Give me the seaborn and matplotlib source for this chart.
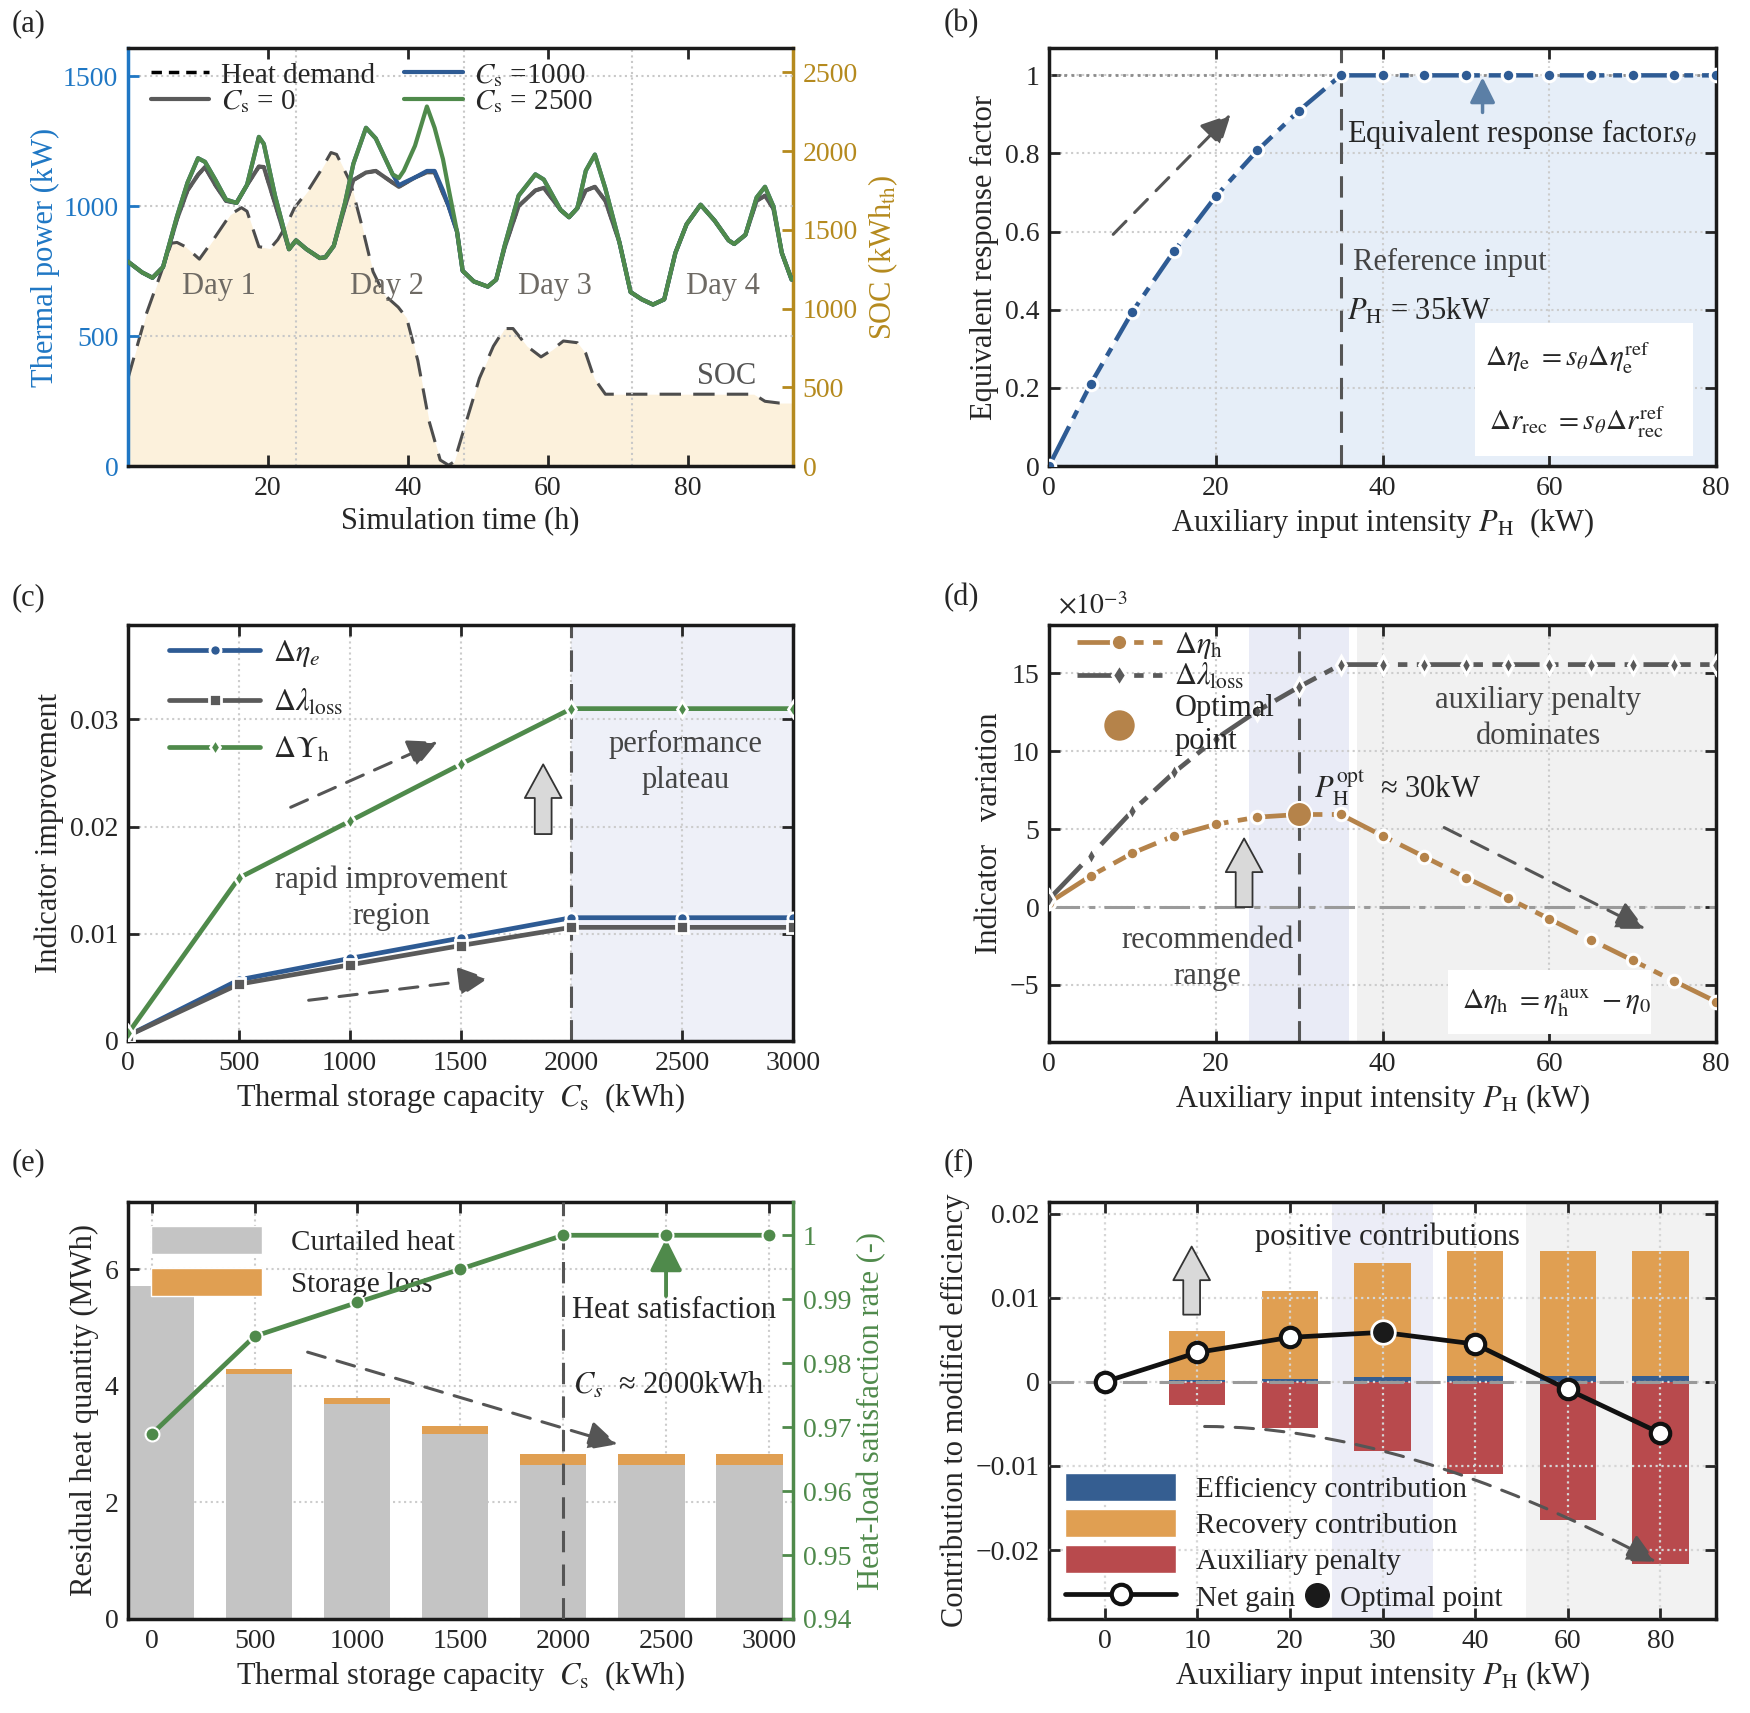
import numpy as np
import pandas as pd
import matplotlib
matplotlib.use("Agg")
import matplotlib.pyplot as plt
import seaborn as sns
from matplotlib.patches import Rectangle, Patch, FancyArrowPatch
from matplotlib.lines import Line2D
from matplotlib.ticker import FuncFormatter

# ---------------- data ----------------
# (a) 4-day operation
hours_a = [0, 2, 3.5, 5, 7, 8.5, 10, 11, 12.5, 14, 15.5, 17, 18.7, 19.4, 21,
           23, 24, 25.5, 27.4, 28.2, 29.4, 31, 32.2, 34, 35.4, 37.8, 38.7, 39.4,
           41, 42.7, 43.8, 45, 45.8, 47, 47.8, 49.4, 51.4, 52.6, 53.8, 55.8,
           58.2, 59.4, 61.8, 63, 64.2, 65.4, 66.7, 68.2, 70.2, 71.8, 73.4, 75,
           76.6, 78.2, 79.8, 81.8, 83.8, 85.8, 86.6, 88.2, 89.8, 91, 92.2, 93.4, 94.8]
power_cs2500 = [786, 745, 724, 765, 960, 1090, 1184, 1170, 1100, 1025, 1012, 1081,
                1266, 1239, 1040, 834, 868, 834, 800, 803, 847, 1012, 1163, 1301,
                1260, 1122, 1108, 1136, 1232, 1383, 1301, 1180, 1067, 902, 751,
                710, 690, 717, 847, 1040, 1122, 1102, 985, 957, 992, 1136, 1198,
                1067, 861, 669, 641, 621, 641, 820, 930, 1005, 944, 868, 854, 889,
                1033, 1074, 999, 820, 717]
power_cs0 = [786, 745, 724, 765, 950, 1060, 1120, 1150, 1080, 1020, 1012, 1081,
             1152, 1150, 1010, 834, 868, 834, 800, 803, 847, 1000, 1100, 1129,
             1135, 1090, 1074, 1085, 1110, 1130, 1130, 1050, 1000, 902, 751,
             710, 690, 717, 840, 1000, 1060, 1070, 985, 957, 992, 1060, 1074,
             1020, 861, 669, 641, 621, 641, 820, 930, 1005, 944, 868, 854, 889,
             1020, 1040, 990, 820, 717]
power_cs1000 = [786, 745, 724, 765, 960, 1090, 1184, 1170, 1100, 1025, 1012, 1081,
                1266, 1239, 1040, 834, 868, 834, 800, 803, 847, 1012, 1163, 1301,
                1260, 1122, 1080, 1090, 1110, 1135, 1135, 1060, 1000, 902, 751,
                710, 690, 717, 847, 1040, 1122, 1102, 985, 957, 992, 1136, 1198,
                1067, 861, 669, 641, 621, 641, 820, 930, 1005, 944, 868, 854, 889,
                1033, 1074, 999, 820, 717]
heat_demand = power_cs0
soc_hours = [0, 2.6, 4.6, 6.2, 7, 8.2, 10.2, 12.2, 14.6, 16.2, 17, 18.7, 20.3, 21.4,
             22.6, 23.8, 25.8, 27.4, 29, 29.8, 31.8, 33.4, 35, 36.6, 38.6, 39.8,
             41.4, 43, 44.6, 45.8, 46.6, 48.2, 50.2, 52.2, 53.8, 55, 57, 59, 60.6,
             62.2, 64.2, 65.4, 66.6, 68.2, 89.4, 91, 93, 94.8]
soc_vals = [557, 964, 1212, 1415, 1420, 1393, 1314, 1438, 1596, 1641, 1618, 1393,
            1381, 1438, 1528, 1641, 1754, 1867, 1991, 1979, 1799, 1528, 1235, 1088,
            1009, 941, 670, 287, 38, 5, 27, 264, 557, 761, 873, 873, 761, 693, 738,
            794, 783, 715, 557, 456, 456, 411, 400, 400]
day_labels = ["Day 1", "Day 2", "Day 3", "Day 4"]

# (b) equivalent response factor
p_b = [0, 5, 10, 15, 20, 25, 30, 35, 40, 45, 50, 55, 60, 65, 70, 75, 80]
s_b = [0, 0.21, 0.395, 0.55, 0.69, 0.808, 0.91, 1, 1, 1, 1, 1, 1, 1, 1, 1, 1]

# (c) indicator improvement vs storage capacity
cap_c = [0, 500, 1000, 1500, 2000, 2500, 3000]
d_eta_e = [0.0005, 0.0057, 0.0077, 0.0096, 0.0115, 0.0115, 0.0115]
d_lam_loss = [0.0005, 0.0053, 0.0071, 0.0089, 0.0106, 0.0106, 0.0106]
d_ups_h = [0.0007, 0.0152, 0.0205, 0.0258, 0.031, 0.031, 0.031]

# (d) indicator variation (x1e-3)
p_d = [0, 5, 10, 15, 20, 25, 30, 35, 40, 45, 50, 55, 60, 65, 70, 75, 80]
d_eta_h = [0.28, 2.0, 3.46, 4.57, 5.31, 5.77, 5.94, 5.94, 4.57, 3.23, 1.89, 0.58,
           -0.76, -2.1, -3.42, -4.76, -6.07]
d_lam_d = [0.5, 3.3, 6.17, 8.64, 10.79, 12.59, 14.13, 15.56, 15.56, 15.56, 15.56,
           15.56, 15.56, 15.56, 15.56, 15.56, 15.56]

# (e) residual heat and satisfaction
cap_e = [0, 500, 1000, 1500, 2000, 2500, 3000]
curtailed = [5.72, 4.21, 3.69, 3.17, 2.65, 2.65, 2.65]
storage_loss = [0, 0.08, 0.11, 0.15, 0.18, 0.18, 0.18]
satisfaction = [0.9689, 0.9842, 0.9895, 0.9947, 1.0, 1.0, 1.0]

# (f) contribution decomposition
p_f = ["0", "10", "20", "30", "40", "60", "80"]
eff_contrib = [0, 0.0002, 0.0004, 0.0006, 0.0007, 0.0007, 0.0007]
rec_contrib = [0, 0.0059, 0.0104, 0.0136, 0.0149, 0.0149, 0.0149]
aux_penalty = [0, -0.0027, -0.0055, -0.0082, -0.011, -0.0164, -0.0217]
net_gain = [0, 0.0035, 0.0053, 0.0059, 0.0045, -0.0009, -0.0061]

# ---------------- style ----------------
sns.set_theme(style="ticks")
plt.rcParams['font.family'] = ['Liberation Serif', 'DejaVu Serif']
plt.rcParams['mathtext.fontset'] = 'stix'
plt.rcParams['axes.unicode_minus'] = True

BLUE = '#2E5B94'
GRAY = '#5A5A5A'
GREEN = '#4F8A4B'
BROWN = '#B5834A'
ORANGE = '#E09F52'
RED = '#B84A4D'
AX_BLUE = '#1F77C4'
GOLD = '#B58A1E'
FS_T = 20
FS_L = 22

W, H = 1750, 1713
fig = plt.figure(figsize=(W / 100, H / 100), dpi=100)


def pos(l, t, r, b):
    return [l / W, 1 - b / H, (r - l) / W, (b - t) / H]


def fmt_g(v, _):
    return f'{v:g}'.replace('-', '\u2212')


def style(ax, top=True, right=True):
    ax.tick_params(axis='both', which='major', direction='in', length=8, width=2,
                   labelsize=FS_T, top=top, right=right, bottom=True, left=True, pad=7)
    ax.tick_params(which='minor', length=0)
    for s in ax.spines.values():
        s.set_linewidth(2.5)
        s.set_color('#1a1a1a')


def grid(ax, **kw):
    ax.grid(True, ls=':', color='#CCCCCC', lw=1.5, **kw)


def dash_arrow(ax, start, end, color='#555555', lw=2.2, zorder=6):
    ax.annotate('', xy=end, xytext=start, zorder=zorder,
                arrowprops=dict(arrowstyle='-|>,head_length=0.9,head_width=0.45',
                                color=color, lw=lw, ls=(0, (6, 4)),
                                mutation_scale=20, shrinkA=0, shrinkB=0))


def block_arrow(ax, start, end, zorder=6):
    ax.annotate('', xy=end, xytext=start, zorder=zorder,
                arrowprops=dict(arrowstyle='simple,head_width=1.2,head_length=1.1,tail_width=0.55',
                                fc='#D9D9D9', ec='#333333', lw=1.3,
                                mutation_scale=22, shrinkA=0, shrinkB=0))


def panel_label(x, y, s):
    fig.text(x / W, 1 - y / H, s, fontsize=FS_L, va='center', ha='left')


# ---------------- (a) ----------------
ax = fig.add_axes(pos(128, 48, 793, 466))
axr = ax.twinx()
ax.set_zorder(axr.get_zorder() + 1)
ax.patch.set_visible(False)

axr.fill_between(soc_hours, soc_vals, 0, color='#FCF1DC', lw=0, zorder=0)
sns.lineplot(x=soc_hours, y=soc_vals, ax=axr, color='#4D4D4D', lw=2.2,
             linestyle=(0, (7, 4)), zorder=2)
axr.set_ylim(0, 2655)
axr.set_yticks([0, 500, 1000, 1500, 2000, 2500])
axr.tick_params(axis='y', direction='in', length=8, width=2, labelsize=FS_T,
                colors=GOLD, pad=7)
for k in ['left', 'top', 'bottom']:
    axr.spines[k].set_visible(False)
axr.spines['right'].set_color(GOLD)
axr.spines['right'].set_linewidth(2.5)
axr.set_ylabel(r'SOC (kWh$_{\rm th}$)', fontsize=FS_L, color=GOLD, labelpad=6)

sns.lineplot(x=hours_a, y=heat_demand, ax=ax, color='black', lw=2.5,
             linestyle=(0, (3, 2)), label='Heat demand', zorder=3)
sns.lineplot(x=hours_a, y=power_cs0, ax=ax, color=GRAY, lw=3,
             label=r'$C_{\rm s}$ = 0', zorder=3)
sns.lineplot(x=hours_a, y=power_cs1000, ax=ax, color=BLUE, lw=3,
             label=r'$C_{\rm s}$ =1000', zorder=3)
sns.lineplot(x=hours_a, y=power_cs2500, ax=ax, color=GREEN, lw=3,
             label=r'$C_{\rm s}$ = 2500', zorder=3)
style(ax, top=True, right=False)
ax.set_xlim(0, 95)
ax.set_ylim(0, 1608)
ax.set_xticks([20, 40, 60, 80])
ax.set_xticks([24, 48, 72], minor=True)
ax.set_yticks([0, 500, 1000, 1500])
ax.xaxis.grid(True, which='minor', ls=':', color='#C8C8C8', lw=1.5)
ax.yaxis.grid(True, which='major', ls=':', color='#C8C8C8', lw=1.5)
ax.tick_params(axis='y', colors=AX_BLUE)
ax.spines['left'].set_color(AX_BLUE)
ax.spines['right'].set_visible(False)
ax.set_xlabel('Simulation time (h)', fontsize=FS_L)
ax.set_ylabel('Thermal power (kW)', fontsize=FS_L, color=AX_BLUE, labelpad=2)
for i, lab in enumerate(day_labels):
    ax.text(13 + 24 * i, 690, lab, fontsize=FS_L, color='#6E6A64', ha='center',
            va='center', zorder=4)
axr.text(85.5, 570, 'SOC', fontsize=FS_L, color='#555555', ha='center', va='center')
ax.legend(ncol=2, loc='upper left', bbox_to_anchor=(-0.005, 1.03), frameon=False,
          fontsize=21, handlelength=2.0, columnspacing=1.0, labelspacing=0.0,
          handletextpad=0.4)
panel_label(12, 24, '(a)')

# ---------------- (b) ----------------
ax = fig.add_axes(pos(1049, 48, 1716, 466))
ax.fill_between(p_b, s_b, 0, color='#E6EEF8', lw=0, zorder=0)
ax.axhline(1, color='#8C8C8C', ls=':', lw=2, zorder=1)
ax.axvline(35, color='#555555', ls=(0, (7, 4)), lw=2.2, zorder=2)
sns.lineplot(x=p_b, y=s_b, ax=ax, color=BLUE, lw=3.2, linestyle=(0, (10, 2, 2, 2)),
             marker='o', markersize=9, markeredgecolor='white',
             markeredgewidth=2.2, zorder=4)
style(ax)
grid(ax)
ax.set_xlim(0, 80)
ax.set_ylim(0, 1.07)
ax.set_xticks([0, 20, 40, 60, 80])
ax.set_yticks([0, 0.2, 0.4, 0.6, 0.8, 1.0])
ax.yaxis.set_major_formatter(FuncFormatter(fmt_g))
ax.set_xlabel(r'Auxiliary input intensity $P_{\rm H}$  (kW)', fontsize=FS_L)
ax.set_ylabel('Equivalent response factor', fontsize=FS_L)
dash_arrow(ax, (7.7, 0.593), (21.8, 0.9))
ax.annotate('', xy=(52, 0.995), xytext=(52, 0.905),
            arrowprops=dict(arrowstyle='-|>,head_length=0.7,head_width=0.35',
                            color='#5B7FA6', lw=2.5, mutation_scale=22,
                            shrinkA=0, shrinkB=0))
ax.text(35.8, 0.85, r'Equivalent response factor$s_\theta$', fontsize=FS_L,
        va='center', ha='left')
ax.text(36.5, 0.52, 'Reference input', fontsize=FS_L, color='#444444', va='center')
ax.text(35.8, 0.395, r'$P_{\rm H}$ = 35kW', fontsize=FS_L, va='center')
ax.add_patch(Rectangle((51.1, 0.025), 26.2, 0.34, facecolor='white',
                       edgecolor='none', zorder=3))
ax.text(52.3, 0.276, r'$\Delta\eta_{\rm e}\ = s_{\theta}\Delta\eta_{\rm e}^{\rm ref}$',
        fontsize=21, va='center', zorder=5)
ax.text(52.8, 0.113, r'$\Delta r_{\rm rec}\ = s_{\theta}\Delta r_{\rm rec}^{\rm ref}$',
        fontsize=21, va='center', zorder=5)
panel_label(944, 24, '(b)')

# ---------------- (c) ----------------
ax = fig.add_axes(pos(128, 625, 793, 1041))
ax.axvspan(2000, 3000, color='#EEF0F8', lw=0, zorder=0)
ax.axvline(2000, color='#555555', ls=(0, (7, 4)), lw=2.2, zorder=2)
mk = dict(markersize=8, markeredgecolor='white', markeredgewidth=2, lw=3.4, zorder=4)
sns.lineplot(x=cap_c, y=d_eta_e, ax=ax, color=BLUE, marker='o',
             label=r'$\Delta\eta_e$', **mk)
sns.lineplot(x=cap_c, y=d_lam_loss, ax=ax, color=GRAY, marker='s',
             label=r'$\Delta\lambda_{\rm loss}$', **mk)
sns.lineplot(x=cap_c, y=d_ups_h, ax=ax, color=GREEN, marker='d',
             label=r'$\Delta\Upsilon_{\rm h}$', **mk)
style(ax)
grid(ax)
ax.set_xlim(0, 3000)
ax.set_ylim(0, 0.0388)
ax.set_xticks(cap_c)
ax.set_yticks([0, 0.01, 0.02, 0.03])
ax.yaxis.set_major_formatter(FuncFormatter(fmt_g))
ax.set_xlabel(r'Thermal storage capacity  $C_{\rm s}$  (kWh)', fontsize=FS_L)
ax.set_ylabel('Indicator improvement', fontsize=FS_L)
dash_arrow(ax, (734, 0.0218), (1397, 0.0279))
dash_arrow(ax, (815, 0.0038), (1625, 0.00585))
block_arrow(ax, (1873, 0.0193), (1873, 0.0258))
ax.text(1190, 0.0133, 'rapid improvement\nregion', fontsize=FS_L, color='#444444',
        ha='center', va='center', linespacing=1.3)
ax.text(2517, 0.026, 'performance\nplateau', fontsize=FS_L, color='#444444',
        ha='center', va='center', linespacing=1.3)
ax.legend(loc='upper left', bbox_to_anchor=(0.02, 1.035), frameon=False, fontsize=22,
          handlelength=3.0, labelspacing=0.6, handletextpad=0.4)
panel_label(12, 598, '(c)')

# ---------------- (d) ----------------
ax = fig.add_axes(pos(1049, 625, 1716, 1042))
ax.axvspan(24, 36, color='#E9EBF6', lw=0, zorder=0)
ax.axvspan(37, 80, color='#F1F1F1', lw=0, zorder=0)
ax.axhline(0, color='#9A9A9A', ls=(0, (10, 3, 2, 3)), lw=2.2, zorder=1)
ax.axvline(30, color='#555555', ls=(0, (7, 4)), lw=2.2, zorder=2)
mk = dict(markersize=9, markeredgecolor='white', markeredgewidth=2.2, lw=3.4,
          linestyle=(0, (10, 2, 2, 2)), zorder=4)
sns.lineplot(x=p_d, y=d_eta_h, ax=ax, color=BROWN, marker='o',
             label=r'$\Delta\eta_{\rm h}$', **mk)
sns.lineplot(x=p_d, y=d_lam_d, ax=ax, color=GRAY, marker='d',
             label=r'$\Delta\lambda_{\rm loss}$', **mk)
i_opt = int(np.argmax(d_eta_h))
ax.plot([p_d[i_opt]], [d_eta_h[i_opt]], 'o', color=BROWN, markersize=18,
        markeredgecolor='white', markeredgewidth=1.5, zorder=5, label='Optimal\npoint')
style(ax)
grid(ax)
ax.set_xlim(0, 80)
ax.set_ylim(-8.66, 18.1)
ax.set_xticks([0, 20, 40, 60, 80])
ax.set_yticks([-5, 0, 5, 10, 15])
ax.yaxis.set_major_formatter(FuncFormatter(fmt_g))
ax.set_xlabel(r'Auxiliary input intensity $P_{\rm H}$ (kW)', fontsize=FS_L)
ax.set_ylabel('Indicator   variation', fontsize=FS_L)
fig.text(1058 / W, 1 - 607 / H, r'$\times10^{-3}$', fontsize=FS_T, va='center')
block_arrow(ax, (23.4, 0.0), (23.4, 4.4))
dash_arrow(ax, (47.4, 5.1), (71.5, -1.4))
ax.text(58.7, 12.1, 'auxiliary penalty\ndominates', fontsize=FS_L, color='#444444',
        ha='center', va='center', linespacing=1.3)
ax.text(31.8, 7.6, r'$P_{\rm H}^{\rm opt}$  ≈ 30kW', fontsize=FS_L, va='center')
ax.text(19, -3.3, 'recommended\nrange', fontsize=FS_L, color='#444444',
        ha='center', va='center', linespacing=1.3)
ax.add_patch(Rectangle((47.9, -8.15), 24.3, 4.1, facecolor='white',
                       edgecolor='none', zorder=3))
ax.text(49.5, -6.2, r'$\Delta\eta_{\rm h}\ = \eta_{\rm h}^{\rm aux}\ - \eta_0$',
        fontsize=21, va='center', zorder=5)
ax.legend(loc='upper left', bbox_to_anchor=(0.0, 1.055), frameon=False, fontsize=22,
          handlelength=2.8, labelspacing=0.05, handletextpad=0.4, markerscale=1.3)
panel_label(944, 598, '(d)')

# ---------------- (e) ----------------
ax = fig.add_axes(pos(128, 1202, 793, 1619))
axr = ax.twinx()
bar_x = [44 + c * 0.954 for c in cap_e]
bar_total = [c + s for c, s in zip(curtailed, storage_loss)]
ax.bar(bar_x, bar_total, width=322, color=ORANGE, lw=0, zorder=2)
ax.bar(bar_x, curtailed, width=322, color='#C4C4C4', lw=0, zorder=2)
style(ax, top=True, right=False)
grid(ax)
ax.set_axisbelow(True)
ax.set_xlim(-115, 3117)
ax.set_ylim(0, 7.157)
ax.set_xticks(cap_e)
ax.set_yticks([0, 2, 4, 6])
ax.set_xlabel(r'Thermal storage capacity  $C_{\rm s}$  (kWh)', fontsize=FS_L)
ax.set_ylabel('Residual heat quantity (MWh)', fontsize=FS_L)
dash_arrow(ax, (758, 4.58), (2264, 3.0))
ax.text(2045, 5.29, 'Heat satisfaction', fontsize=FS_L, va='center')
ax.text(2050, 4.0, r'$C_s$  ≈ 2000kWh', fontsize=FS_L, va='center')
ax.legend([Patch(facecolor='#C4C4C4'), Patch(facecolor=ORANGE)],
          ['Curtailed heat', 'Storage loss'], loc='upper left',
          bbox_to_anchor=(-0.005, 1.005), frameon=False, fontsize=21,
          handlelength=3.8, handleheight=1.1, labelspacing=0.4, handletextpad=1.0)

axr.axvline(2000, color='#555555', ls=(0, (7, 4)), lw=2.2, zorder=2)
sns.lineplot(x=cap_e, y=satisfaction, ax=axr, color=GREEN, lw=3.4, marker='o',
             markersize=10, markeredgecolor='white', markeredgewidth=1.5, zorder=4)
axr.annotate('', xy=(2500, 0.9995), xytext=(2500, 0.9905),
             arrowprops=dict(arrowstyle='-|>,head_length=0.9,head_width=0.45',
                             color=GREEN, lw=2.8, mutation_scale=22,
                             shrinkA=0, shrinkB=0))
axr.set_ylim(0.94, 1.0052)
axr.set_yticks([0.94, 0.95, 0.96, 0.97, 0.98, 0.99, 1.0])
axr.yaxis.set_major_formatter(FuncFormatter(fmt_g))
axr.tick_params(axis='y', direction='in', length=8, width=2, labelsize=FS_T,
                colors=GREEN, pad=7)
for k in ['left', 'top', 'bottom']:
    axr.spines[k].set_visible(False)
axr.spines['right'].set_color(GREEN)
axr.spines['right'].set_linewidth(2.5)
ax.spines['right'].set_visible(False)
axr.set_ylabel('Heat-load satisfaction rate (-)', fontsize=FS_L, color=GREEN,
               labelpad=4)
panel_label(12, 1163, '(e)')

# ---------------- (f) ----------------
ax = fig.add_axes(pos(1049, 1202, 1716, 1619))
ax.axvspan(2.46, 3.54, color='#ECEDF7', lw=0, zorder=0)
ax.axvspan(4.55, 6.6, color='#F2F2F2', lw=0, zorder=0)
df_f = pd.DataFrame({'P': p_f, 'eff': eff_contrib, 'rec': rec_contrib,
                     'pen': aux_penalty})
df_f['pos_total'] = df_f['eff'] + df_f['rec']
EFF_BLUE = '#355E91'
for col, c in [('pos_total', ORANGE), ('eff', EFF_BLUE), ('pen', RED)]:
    sns.barplot(data=df_f, x='P', y=col, order=p_f, color=c, saturation=1,
                width=0.61, linewidth=0, errorbar=None, ax=ax, zorder=2)
ax.axhline(0, color='#9A9A9A', ls=(0, (8, 4)), lw=2.2, zorder=4)
xi = np.arange(len(p_f))
ax.plot(xi, net_gain, color='#111111', lw=3.4, marker='o', markersize=14,
        markerfacecolor='white', markeredgecolor='#111111', markeredgewidth=3,
        zorder=6)
j_opt = int(np.argmax(net_gain))
ax.plot([xi[j_opt]], [net_gain[j_opt]], 'o', color='#1a1a1a', markersize=17,
        markeredgecolor='white', markeredgewidth=2, zorder=7)
style(ax)
ax.grid(True, ls=':', color='#D6D6D6', lw=1.6)
ax.set_axisbelow(False)
ax.set_xlim(-0.6, 6.6)
ax.set_ylim(-0.0282, 0.0214)
ax.set_yticks([-0.02, -0.01, 0, 0.01, 0.02])
ax.yaxis.set_major_formatter(FuncFormatter(fmt_g))
ax.set_xlabel(r'Auxiliary input intensity $P_{\rm H}$ (kW)', fontsize=FS_L)
ax.set_ylabel('Contribution to modified efficiency', fontsize=FS_L)
block_arrow(ax, (0.94, 0.008), (0.94, 0.0161))
ax.text(3.05, 0.0172, 'positive contributions', fontsize=FS_L, ha='center',
        va='center')
arc = FancyArrowPatch((1.08, -0.0053), (5.95, -0.0214),
                      connectionstyle='angle3,angleA=0,angleB=-28',
                      arrowstyle='-|>,head_length=0.9,head_width=0.45',
                      color='#555555', lw=2.2, ls=(0, (6, 4)), mutation_scale=20,
                      shrinkA=0, shrinkB=0, zorder=6)
ax.add_patch(arc)
leg1 = ax.legend([Patch(facecolor=EFF_BLUE), Patch(facecolor=ORANGE),
                  Patch(facecolor=RED),
                  Line2D([], [], color='#111111', lw=3.4, marker='o', markersize=14,
                         markerfacecolor='white', markeredgewidth=3)],
                 ['Efficiency contribution', 'Recovery contribution',
                  'Auxiliary penalty', 'Net gain'],
                 loc='lower left', bbox_to_anchor=(-0.015, -0.045), frameon=False,
                 fontsize=21, handlelength=3.8, handleheight=1.1,
                 labelspacing=0.22, handletextpad=0.7)
ax.add_artist(leg1)
ax.legend([Line2D([], [], ls='none', marker='o', markersize=17, color='#1a1a1a')],
          ['Optimal point'], loc='lower left', bbox_to_anchor=(0.345, -0.045),
          frameon=False, fontsize=21, handlelength=0.8, handletextpad=0.4)
panel_label(944, 1163, '(f)')

fig.savefig('out.png', dpi=100)
